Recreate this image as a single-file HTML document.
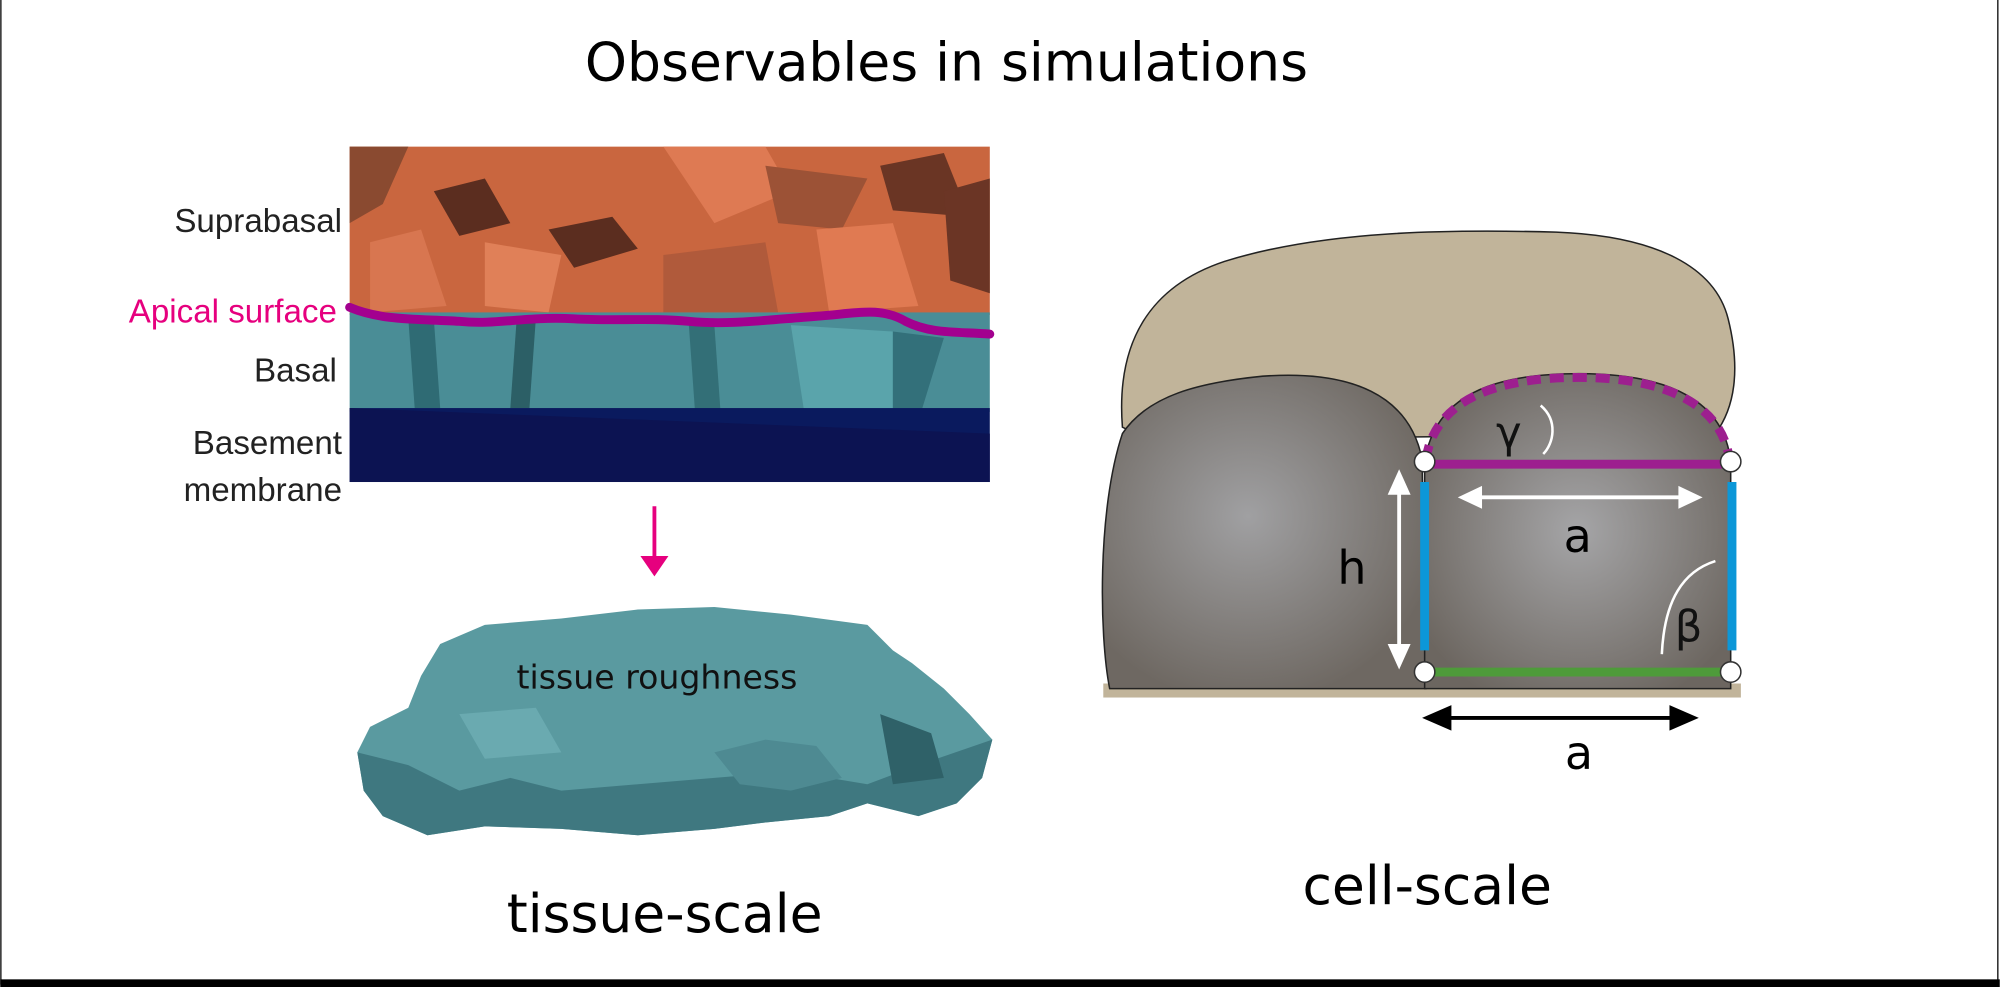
<!DOCTYPE html>
<html><head><meta charset="utf-8"><style>
html,body{margin:0;padding:0;background:#fff;}
svg{display:block;}
text{font-family:"Liberation Sans","DejaVu Sans",sans-serif;}
.d{font-family:"DejaVu Sans","Liberation Sans",sans-serif;}
</style></head><body>
<svg width="2000" height="987" viewBox="0 0 1568 774" xmlns="http://www.w3.org/2000/svg">
<defs>
<radialGradient id="g1" cx="0.45" cy="0.45" r="0.6"><stop offset="0" stop-color="#a0a0a2"/><stop offset="1" stop-color="#6e6862"/></radialGradient>
<radialGradient id="g2" cx="0.5" cy="0.5" r="0.6"><stop offset="0" stop-color="#a5a5a7"/><stop offset="1" stop-color="#6c6660"/></radialGradient>
</defs>
<rect x="0" y="0" width="1568" height="774" fill="#fff"/>
<line x1="0.5" y1="0" x2="0.5" y2="772" stroke="#000" stroke-width="1"/>
<line x1="1566.5" y1="0" x2="1566.5" y2="772" stroke="#000" stroke-width="1"/>
<rect x="0" y="768" width="1568" height="6" fill="#000"/>

<text class="d" x="742" y="63" font-size="42" text-anchor="middle" fill="#000">Observables in simulations</text>

<!-- tissue image -->
<rect x="274" y="115" width="502" height="132" fill="#c9663f"/>
<polygon points="274,115 320,115 300,160 274,175" fill="#8a4a30"/>
<polygon points="340,150 380,140 400,175 360,185" fill="#5b2d1f"/>
<polygon points="430,180 480,170 500,195 450,210" fill="#5b2d1f"/>
<polygon points="520,115 600,115 620,150 560,175" fill="#de7a53"/>
<polygon points="600,130 680,140 660,180 610,175" fill="#9c5236"/>
<polygon points="690,130 740,120 760,170 700,165" fill="#6a3524"/>
<polygon points="380,190 440,200 430,245 380,240" fill="#e08058"/>
<polygon points="520,200 600,190 610,245 520,245" fill="#b05a3b"/>
<polygon points="640,180 700,175 720,240 650,245" fill="#e07a52"/>
<polygon points="740,150 776,140 776,230 745,220" fill="#6b3525"/>
<polygon points="290,190 330,180 350,240 290,245" fill="#d87650"/>
<rect x="274" y="245" width="502" height="78" fill="#4a8d96"/>
<polygon points="320,250 340,250 345,320 325,320" fill="#2f6b74"/>
<polygon points="405,250 420,250 415,320 400,320" fill="#2c5f66"/>
<polygon points="540,255 560,255 565,325 545,325" fill="#336f77"/>
<polygon points="620,255 700,260 700,330 630,320" fill="#5aa4ab"/>
<polygon points="700,260 740,265 720,330 700,330" fill="#33707a"/>
<rect x="274" y="320" width="502" height="58" fill="#0a1a5e"/>
<polygon points="274,320 776,340 776,378 274,378" fill="#0c1352"/>
<path d="M274,241 C300,252 330,250 360,252 C390,255 410,248 450,250 C480,252 510,249 540,252 C570,255 600,251 640,248 C670,246 690,240 710,252 C730,262 750,260 776,262" fill="none" stroke="#a3008f" stroke-width="7" stroke-linecap="round"/>

<text x="268" y="182" font-size="26" text-anchor="end" fill="#222">Suprabasal</text>
<text x="264" y="253" font-size="26" text-anchor="end" fill="#e6007e">Apical surface</text>
<text x="264" y="299" font-size="26" text-anchor="end" fill="#222">Basal</text>
<text x="268" y="356" font-size="26" text-anchor="end" fill="#222">Basement</text>
<text x="268" y="393" font-size="26" text-anchor="end" fill="#222">membrane</text>

<!-- magenta arrow -->
<line x1="513" y1="397" x2="513" y2="440" stroke="#e6007e" stroke-width="3"/>
<polygon points="502,436 524,436 513,452" fill="#e6007e"/>

<!-- roughness blob -->
<polygon points="345,505 380,490 440,485 500,478 560,476 620,482 680,490 700,510 715,520 740,540 760,560 778,580 770,610 750,630 720,640 680,630 650,640 600,645 560,650 500,655 440,650 380,648 335,655 300,640 285,620 280,590 290,570 320,555 330,530" fill="#5a9aa0"/>
<polygon points="280,590 320,600 360,620 400,610 440,620 500,615 560,610 620,605 680,615 720,600 778,580 770,610 750,630 720,640 680,630 650,640 600,645 560,650 500,655 440,650 380,648 335,655 300,640 285,620" fill="#3f7880"/>
<polygon points="560,590 600,580 640,585 660,610 620,620 580,615" fill="#4e8a92"/>
<polygon points="690,560 730,575 740,610 700,615" fill="#2f6168"/>
<polygon points="360,560 420,555 440,590 380,595" fill="#6aaab0"/>
<text class="d" x="515" y="540" font-size="26" text-anchor="middle" fill="#111">tissue roughness</text>
<text class="d" x="521" y="731" font-size="42" text-anchor="middle" fill="#000">tissue-scale</text>

<!-- cell diagram -->
<path d="M880,335 C875,270 900,225 960,205 C1040,180 1140,180 1220,182 C1300,185 1345,210 1355,250 C1365,290 1360,320 1345,340 L900,345 Z" fill="#c1b49a" stroke="#222" stroke-width="1.2"/>
<rect x="865" y="536" width="500" height="11" fill="#c1b49a"/>
<path d="M880,340 C900,310 940,300 990,295 C1060,290 1105,310 1115,360 L1118,540 L870,540 C862,500 860,400 880,340 Z" fill="url(#g1)" stroke="#222" stroke-width="1.2"/>
<path d="M1117,362 C1125,310 1170,293 1238,293 C1310,293 1352,315 1357,362 L1357,540 L1117,540 Z" fill="url(#g2)" stroke="#222" stroke-width="1.2"/>
<path d="M1118,360 C1125,315 1170,296 1238,296 C1308,296 1350,318 1356,360" fill="none" stroke="#9d1f8f" stroke-width="7" stroke-dasharray="11,7"/>
<line x1="1122" y1="364" x2="1352" y2="364" stroke="#9d1f8f" stroke-width="7"/>
<line x1="1117" y1="378" x2="1117" y2="510" stroke="#0c97d8" stroke-width="7"/>
<line x1="1358" y1="378" x2="1358" y2="510" stroke="#0c97d8" stroke-width="7"/>
<line x1="1122" y1="527" x2="1352" y2="527" stroke="#4e9b3a" stroke-width="7"/>
<g fill="#fff" stroke="#333" stroke-width="1.2">
<circle cx="1117" cy="362" r="8"/><circle cx="1357" cy="362" r="8"/>
<circle cx="1117" cy="527" r="8"/><circle cx="1357" cy="527" r="8"/>
</g>
<line x1="1158" y1="390" x2="1320" y2="390" stroke="#fff" stroke-width="3"/>
<polygon points="1143,390 1162,381 1162,399" fill="#fff"/>
<polygon points="1335,390 1316,381 1316,399" fill="#fff"/>
<text class="d" x="1237" y="433" font-size="36" text-anchor="middle" fill="#000">a</text>
<line x1="1097" y1="385" x2="1097" y2="508" stroke="#fff" stroke-width="3"/>
<polygon points="1097,368 1088,388 1106,388" fill="#fff"/>
<polygon points="1097,525 1088,505 1106,505" fill="#fff"/>
<text class="d" x="1060" y="458" font-size="36" text-anchor="middle" fill="#000">h</text>
<line x1="1135" y1="563" x2="1312" y2="563" stroke="#000" stroke-width="3"/>
<polygon points="1115,563 1138,553 1138,573" fill="#000"/>
<polygon points="1332,563 1309,553 1309,573" fill="#000"/>
<text class="d" x="1238" y="603" font-size="36" text-anchor="middle" fill="#000">a</text>
<path d="M1208,318 C1222,330 1218,348 1210,356" fill="none" stroke="#fff" stroke-width="2"/>
<text class="d" x="1183" y="351" font-size="34" text-anchor="middle" fill="#111">γ</text>
<path d="M1303,513 C1305,470 1320,448 1345,440" fill="none" stroke="#fff" stroke-width="2"/>
<text class="d" x="1324" y="503" font-size="34" text-anchor="middle" fill="#111">β</text>

<text class="d" x="1119" y="709" font-size="42" text-anchor="middle" fill="#000">cell-scale</text>
</svg>
</body></html>
